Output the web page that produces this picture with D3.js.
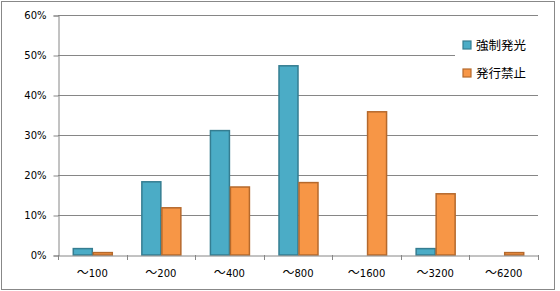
<!DOCTYPE html>
<html>
<head>
<meta charset="utf-8">
<script src="https://cdn.jsdelivr.net/npm/d3@7"></script>
<style>
  body { margin: 0; background: #fff; }
  svg { display: block; }
</style>
</head>
<body>
<svg id="chart" width="560" height="291"></svg>
<script>
// ranges of ISO / shutter bins on the x axis
var categories = ['～100', '～200', '～400', '～800', '～1600', '～3200', '～6200'];
var seriesNames = ['強制発光', '発行禁止'];
var flashOn = [1.6, 18.3, 31.1, 47.3, 0, 1.6, 0];
var flashOff = [0.6, 11.8, 17.0, 18.1, 35.8, 15.3, 0.6];
var yTicks = [0, 10, 20, 30, 40, 50, 60];

var fills = ['#4bacc6', '#f79646'];
var strokes = ['#357d91', '#b5692c'];

var svg = d3.select('#chart');

// outer frame
svg.append('rect')
  .attr('x', 1.5).attr('y', 1.5)
  .attr('width', 553).attr('height', 288)
  .attr('fill', '#fff')
  .attr('stroke', '#888');

var plotLeft = 58, plotRight = 538, plotTop = 15, plotBottom = 255;

var x = d3.scaleBand()
  .domain(categories)
  .range([plotLeft, plotRight]);

var xInner = d3.scaleBand()
  .domain(seriesNames)
  .range([0, 40]);

var y = d3.scaleLinear()
  .domain([0, 60])
  .range([plotBottom, plotTop]);

// gridlines
svg.append('g')
  .selectAll('line')
  .data(yTicks.slice(1))
  .enter().append('line')
  .attr('x1', plotLeft).attr('x2', plotRight)
  .attr('y1', function (d) { return Math.round(y(d)) + 0.5; })
  .attr('y2', function (d) { return Math.round(y(d)) + 0.5; })
  .attr('stroke', '#868686');

// y axis
var yAxis = svg.append('g')
  .attr('transform', 'translate(' + (plotLeft + 0.5) + ',0.5)')
  .call(d3.axisLeft(y).tickValues(yTicks).tickSize(5).tickPadding(7)
    .tickFormat(function (d) { return d + '%'; }));
yAxis.selectAll('path, line').attr('stroke', '#868686');
yAxis.selectAll('text')
  .attr('font-family', 'DejaVu Sans')
  .attr('font-size', 10)
  .attr('fill', '#000');

// bars
var data = [flashOn, flashOff];
data.forEach(function (values, s) {
  svg.append('g')
    .selectAll('rect')
    .data(values)
    .enter().append('rect')
    .attr('x', function (d, i) {
      return x(categories[i]) + (x.bandwidth() - 40) / 2 + xInner(seriesNames[s]) + 1;
    })
    .attr('y', function (d) { return y(d); })
    .attr('width', xInner.bandwidth() - 1)
    .attr('height', function (d) { return plotBottom - y(d); })
    .attr('fill', fills[s])
    .attr('stroke', strokes[s])
    .attr('stroke-width', 1.5)
    .attr('display', function (d) { return d > 0 ? null : 'none'; });
});

// x axis
var xAxis = svg.append('g')
  .attr('transform', 'translate(0,' + (plotBottom + 0.5) + ')')
  .call(d3.axisBottom(x).tickSize(0).tickFormat(''));
xAxis.select('path').attr('stroke', '#868686');
xAxis.selectAll('.tick').remove();

svg.append('g')
  .selectAll('line')
  .data(categories.concat(['end']))
  .enter().append('line')
  .attr('x1', function (d, i) { return Math.round(plotLeft + i * x.step()) + 0.5; })
  .attr('x2', function (d, i) { return Math.round(plotLeft + i * x.step()) + 0.5; })
  .attr('y1', plotBottom).attr('y2', plotBottom + 5)
  .attr('stroke', '#868686');

var labels = svg.append('g')
  .selectAll('text')
  .data(categories)
  .enter().append('text')
  .attr('x', function (d) { return x(d) + x.bandwidth() / 2; })
  .attr('y', 277)
  .attr('text-anchor', 'middle')
  .attr('font-family', 'DejaVu Sans')
  .attr('font-size', 10);
labels.append('tspan')
  .attr('font-family', 'Noto Sans CJK JP')
  .attr('font-size', 12)
  .text(function (d) { return d.slice(0, 1); });
labels.append('tspan')
  .text(function (d) { return d.slice(1); });

// legend
var legend = svg.append('g')
  .attr('transform', 'translate(455,33)');
legend.append('rect')
  .attr('x', 0).attr('y', 0)
  .attr('width', 84).attr('height', 52)
  .attr('fill', '#fff');
seriesNames.forEach(function (name, i) {
  var g = legend.append('g').attr('transform', 'translate(8,' + (8 + i * 28) + ')');
  g.append('rect')
    .attr('width', 8).attr('height', 8)
    .attr('fill', fills[i])
    .attr('stroke', strokes[i])
    .attr('stroke-width', 1.2);
  g.append('text')
    .attr('x', 13).attr('y', 8.5)
    .attr('font-family', 'Noto Sans CJK JP')
    .attr('font-size', 12.5)
    .text(name);
});
</script>
</body>
</html>
